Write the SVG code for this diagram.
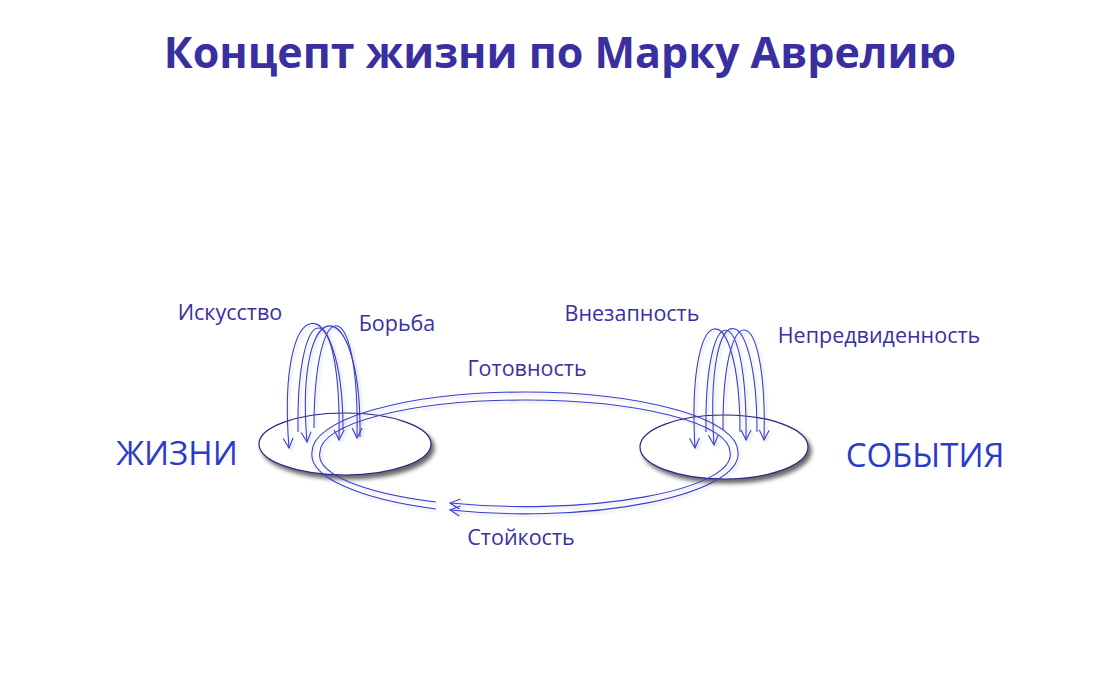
<svg xmlns="http://www.w3.org/2000/svg" width="1094" height="679" viewBox="0 0 1094 679">
<style>
.t{font-family:"Open Sans","Noto Sans",sans-serif;fill:#3a2fa0}
.big{font-family:"Open Sans","Noto Sans",sans-serif;fill:#2a3acb;font-size:33px}
.ln{fill:none;stroke:#3a3fd0;stroke-width:1.1;marker-end:url(#ah);filter:url(#sh)}
.ring{fill:none;stroke:#3a3fd0;stroke-width:1.1;marker-start:url(#ah);filter:url(#sh)}
.el{fill:#fff;stroke:#2a2580;stroke-width:1.2;filter:url(#es)}
</style>
<defs>
<marker id="ah" viewBox="0 0 12 12" refX="11" refY="6" markerWidth="12" markerHeight="12" markerUnits="userSpaceOnUse" orient="auto-start-reverse"><path d="M1 1 L11 6 L1 11" fill="none" stroke="#3a3fd0" stroke-width="1.1"/></marker>
<filter id="sh" x="-20%" y="-20%" width="140%" height="140%"><feDropShadow dx="2" dy="2" stdDeviation="1.5" flood-color="#000" flood-opacity="0.15"/></filter>
<filter id="es" x="-20%" y="-30%" width="140%" height="160%"><feDropShadow dx="3" dy="4" stdDeviation="2" flood-color="#000" flood-opacity="0.6"/></filter>
</defs>
<text class="t" x="560" y="68" text-anchor="middle" font-size="43" font-weight="bold">Концепт жизни по Марку Аврелию</text>
<g id="node-life"><ellipse class="el" cx="345" cy="444" rx="86" ry="31"/></g>
<g id="node-events"><ellipse class="el" cx="724" cy="447" rx="84" ry="32"/></g>
<g id="connectors">
<path class="ring" d="M450 503 A205 52 0 0 0 730 452 A205 52 0 0 0 525 400 A205 52 0 0 0 320 452 A205 52 0 0 0 436 502"/>
<path class="ring" d="M450 510 A213 60 0 0 0 738 452 A213 60 0 0 0 525 392 A213 60 0 0 0 312 452 A213 60 0 0 0 436 509"/>
<path class="ln" d="M343 430 C343 285 276 285 289 448"/>
<path class="ln" d="M360 437 C362 288 294 288 307 442"/>
<path class="ln" d="M298 432 C296 292 342 292 339 440"/>
<path class="ln" d="M314 428 C314 290 360 290 357 438"/>
<path class="ln" d="M740 432 C740 292 686 292 695 448"/>
<path class="ln" d="M757 432 C757 292 704 292 714 445"/>
<path class="ln" d="M706 432 C704 295 748 295 746 440"/>
<path class="ln" d="M723 430 C722 295 768 295 764 440"/>
</g>
<g id="labels">
<text class="big" x="177" y="465" text-anchor="middle">ЖИЗНИ</text>
<text class="big" x="925" y="467" text-anchor="middle">СОБЫТИЯ</text>
<text class="t" x="230" y="320" text-anchor="middle" font-size="21.5">Искусство</text>
<text class="t" x="397" y="331" text-anchor="middle" font-size="21.5">Борьба</text>
<text class="t" x="632" y="321" text-anchor="middle" font-size="21.5">Внезапность</text>
<text class="t" x="879" y="343" text-anchor="middle" font-size="21.5">Непредвиденность</text>
<text class="t" x="527" y="376" text-anchor="middle" font-size="21.5">Готовность</text>
<text class="t" x="521" y="545" text-anchor="middle" font-size="21.5">Стойкость</text>
</g>
</svg>
